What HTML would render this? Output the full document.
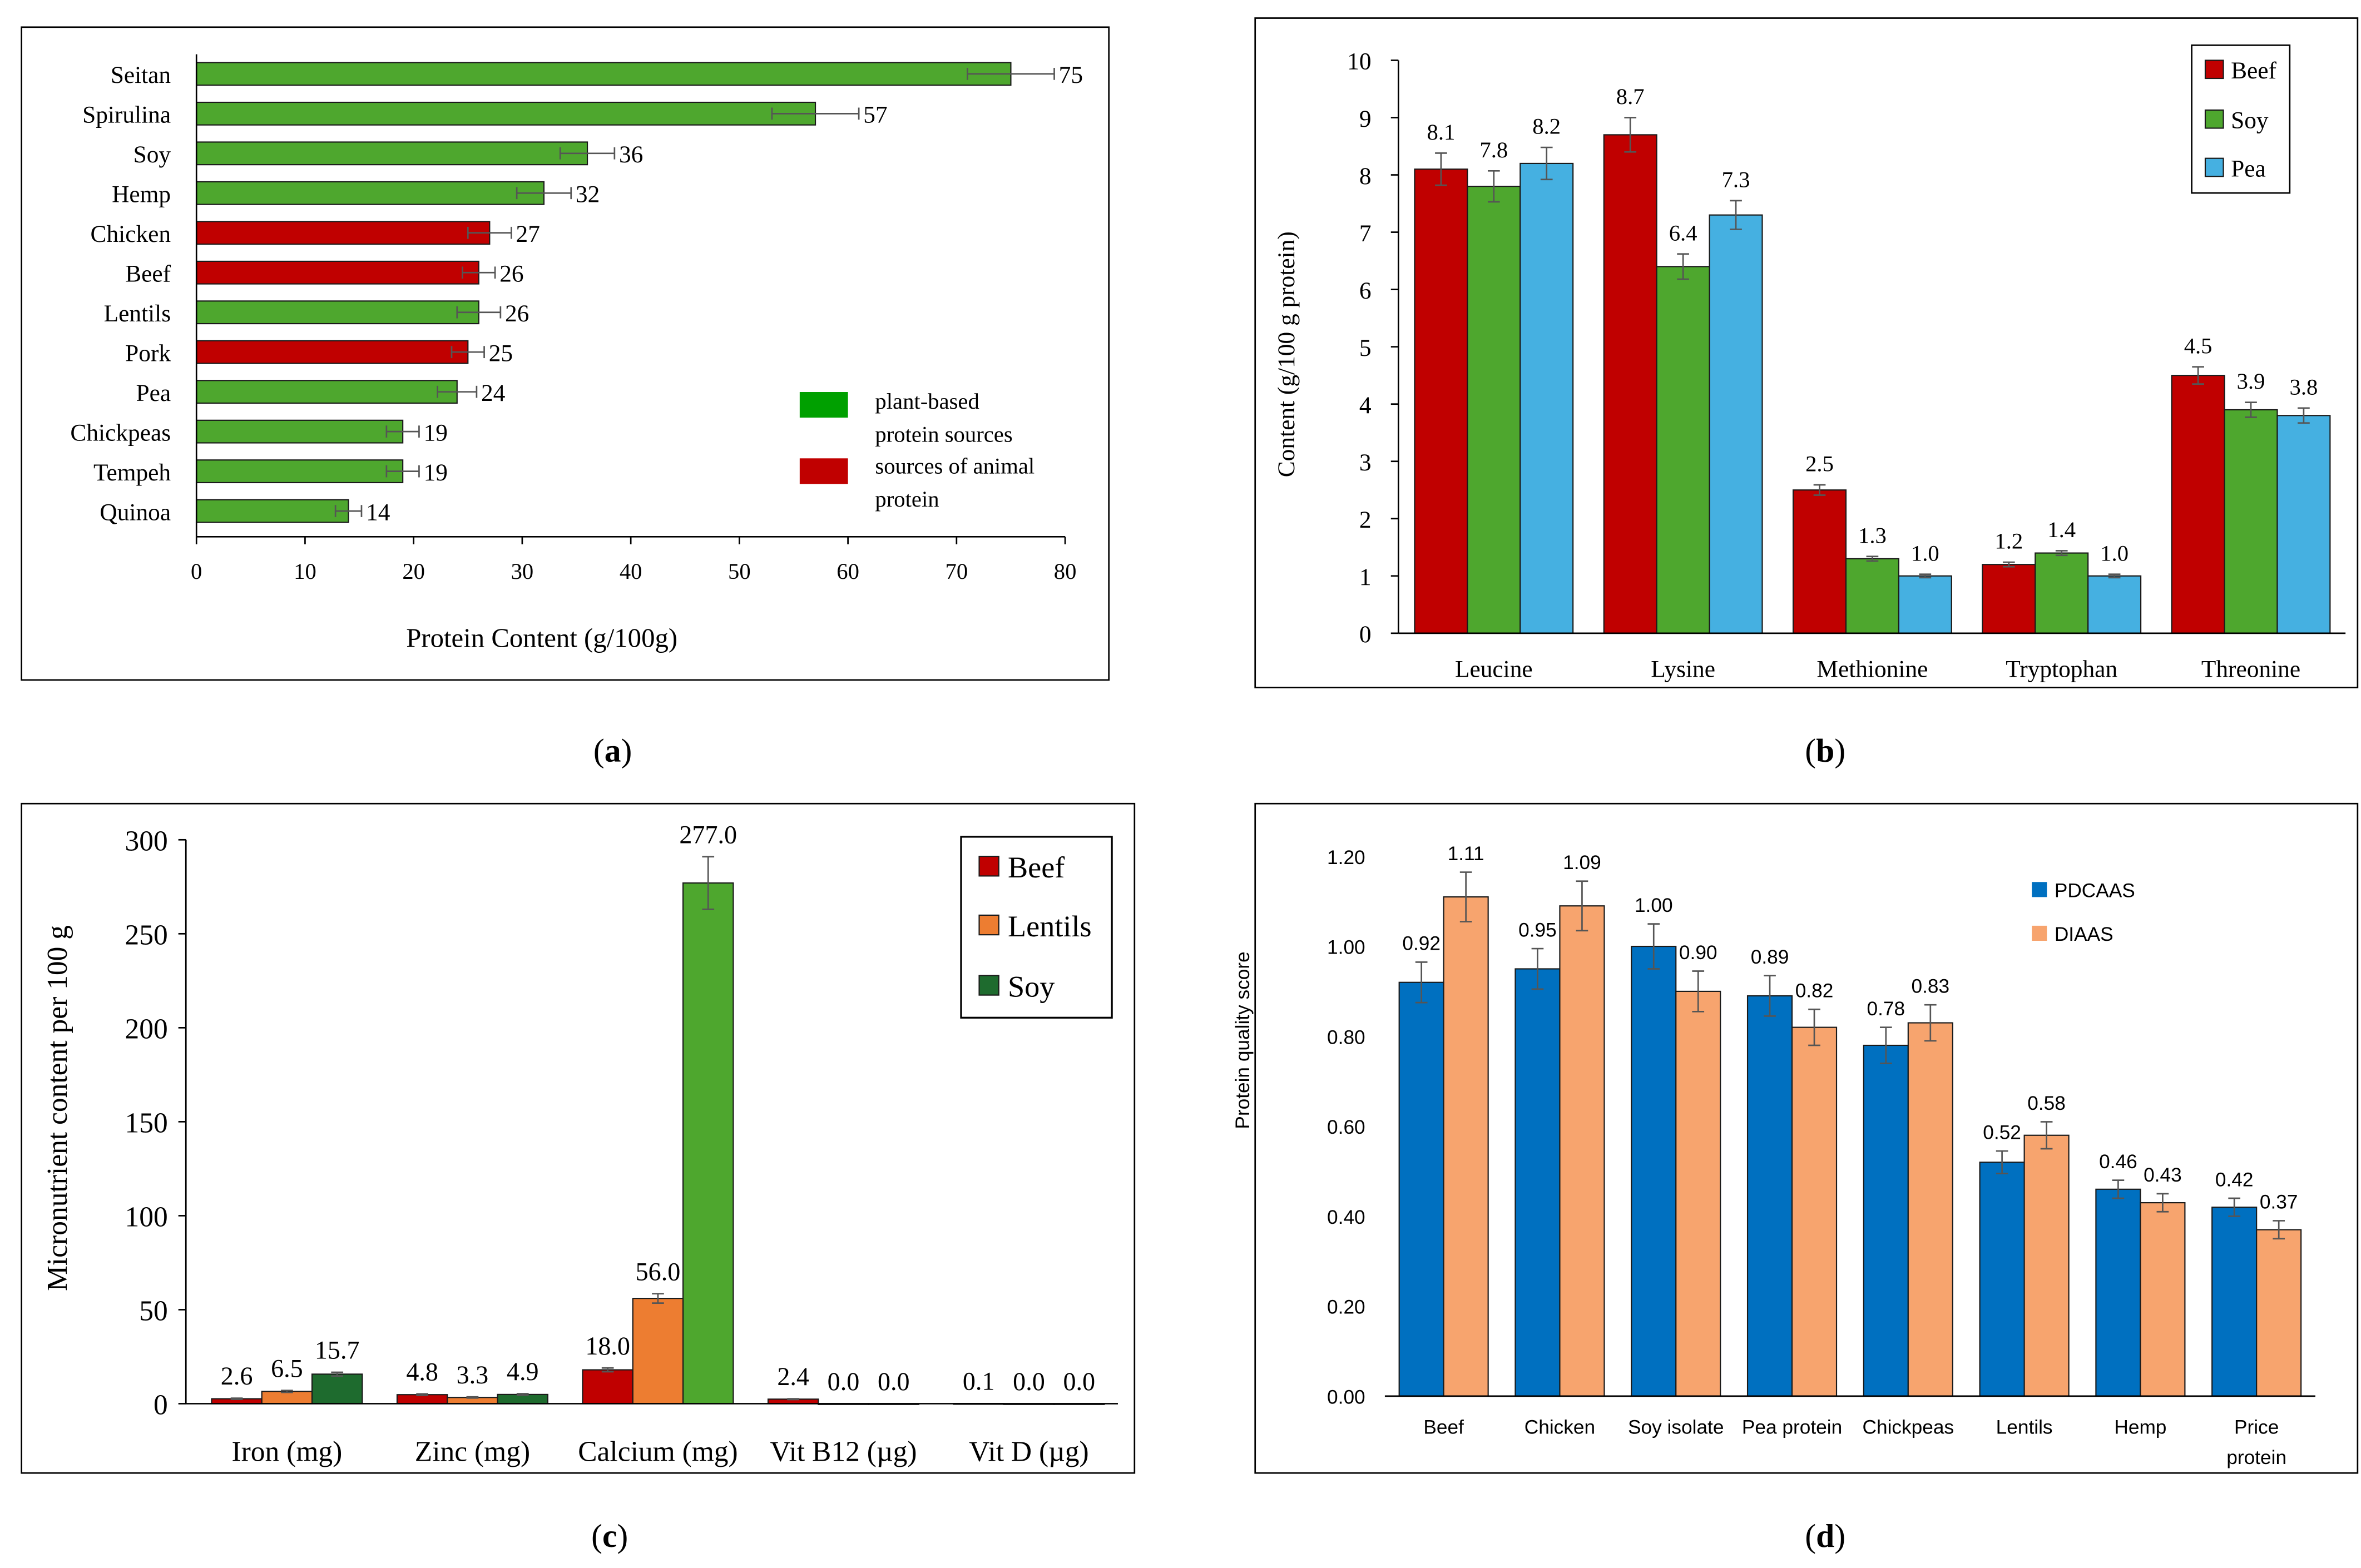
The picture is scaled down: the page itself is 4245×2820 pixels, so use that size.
<!DOCTYPE html>
<html><head><meta charset="utf-8"><style>
html,body{margin:0;padding:0;background:#fff;}
svg{display:block;}
text{font-family:"Liberation Serif",serif;fill:#000;}
.sans{font-family:"Liberation Sans",sans-serif;}
</style></head><body>
<svg id="root" xmlns="http://www.w3.org/2000/svg" width="4245" height="2820" viewBox="0 0 1565 1040">
<rect x="0" y="0" width="1565" height="1040" fill="#fff"/>
<rect x="14" y="18" width="721" height="433" fill="none" stroke="#000" stroke-width="1"/>
<rect x="832" y="12" width="731" height="444" fill="none" stroke="#000" stroke-width="1"/>
<rect x="14" y="533" width="738" height="444" fill="none" stroke="#000" stroke-width="1"/>
<rect x="832" y="533" width="731" height="444" fill="none" stroke="#000" stroke-width="1"/>
<text x="406" y="505" font-size="22" text-anchor="middle">(<tspan font-weight="bold">a</tspan>)</text>
<text x="1210" y="505" font-size="22" text-anchor="middle">(<tspan font-weight="bold">b</tspan>)</text>
<text x="404" y="1026" font-size="22" text-anchor="middle">(<tspan font-weight="bold">c</tspan>)</text>
<text x="1210" y="1026" font-size="22" text-anchor="middle">(<tspan font-weight="bold">d</tspan>)</text>
<g id="ga"></g><g id="gb"></g><g id="gc"></g><g id="gd"></g>
</svg>
<script>
// ---- Panel A data ----
const aCats = ["Seitan","Spirulina","Soy","Hemp","Chicken","Beef","Lentils","Pork","Pea","Chickpeas","Tempeh","Quinoa"];
const aVals = [75,57,36,32,27,26,26,25,24,19,19,14];
const aErrs = [4,4,2.5,2.5,2,1.5,2,1.5,1.8,1.5,1.5,1.2];
const aAnimal = [0,0,0,0,1,1,0,1,0,0,0,0];
const aTicks = [0,10,20,30,40,50,60,70,80];
// ---- Panel B data ----
const bCats = ["Leucine","Lysine","Methionine","Tryptophan","Threonine"];
const bBeef = [8.1,8.7,2.5,1.2,4.5];
const bSoy = [7.8,6.4,1.3,1.4,3.9];
const bPea = [8.2,7.3,1.0,1.0,3.8];
const bBeefErr = [0.28,0.3,0.09,0.04,0.15];
const bSoyErr = [0.27,0.22,0.04,0.04,0.13];
const bPeaErr = [0.28,0.25,0.03,0.03,0.13];
const bTicks = [0,1,2,3,4,5,6,7,8,9,10];
// ---- Panel C data ----
const cCats = ["Iron (mg)","Zinc (mg)","Calcium (mg)","Vit B12 (µg)","Vit D (µg)"];
const cBeef = [2.6,4.8,18.0,2.4,0.1];
const cLent = [6.5,3.3,56.0,0.0,0.0];
const cSoy = [15.7,4.9,277.0,0.0,0.0];
const cBeefErr = [0.3,0.4,1,0.2,0];
const cLentErr = [0.5,0.3,2.5,0,0];
const cSoyErr = [1,0.4,14,0,0];
const cTicks = [0,50,100,150,200,250,300];
// ---- Panel D data ----
const dCats = ["Beef","Chicken","Soy isolate","Pea protein","Chickpeas","Lentils","Hemp","Price protein"];
const dPd = [0.92,0.95,1.00,0.89,0.78,0.52,0.46,0.42];
const dDi = [1.11,1.09,0.90,0.82,0.83,0.58,0.43,0.37];
const dPdErr = [0.045,0.045,0.05,0.045,0.04,0.025,0.02,0.02];
const dDiErr = [0.055,0.055,0.045,0.04,0.04,0.03,0.02,0.02];
const dTicks = [0,0.2,0.4,0.6,0.8,1.0,1.2];

const NS="http://www.w3.org/2000/svg";
function mk(parent, tag, attrs, name, inter){
  const e=document.createElementNS(NS,tag);
  for(const k in attrs) e.setAttribute(k,attrs[k]);
  
  
  parent.appendChild(e); return e;
}
function txt(parent, x,y,s,size,anchor,name,cls,extra){
  const a={x:x,y:y,'font-size':size,'text-anchor':anchor||'start'};
  if(cls) a['class']=cls;
  if(extra) for(const k in extra) a[k]=extra[k];
  const t=mk(parent,'text',a,name,false); t.textContent=s; return t;
}
function vErr(g,x,y1,y2,w,name){
  mk(g,'line',{x1:x,x2:x,y1:y1,y2:y2,stroke:'#555','stroke-width':1},name,false);
  mk(g,'line',{x1:x-w,x2:x+w,y1:y1,y2:y1,stroke:'#555','stroke-width':1},name+'-cap-top',false);
  mk(g,'line',{x1:x-w,x2:x+w,y1:y2,y2:y2,stroke:'#555','stroke-width':1},name+'-cap-bottom',false);
}

// ===== Panel A =====
(function(){
  const g=document.getElementById('ga');
  const x=v=>130+v*7.2, y0=49, step=26.36, bh=15;
  aCats.forEach((c,i)=>{
    const yc=y0+i*step, v=aVals[i], e=aErrs[i];
    mk(g,'rect',{x:x(0),y:yc-bh/2,width:x(v)-x(0),height:bh,fill:aAnimal[i]?'#C00000':'#4EA72E',stroke:'#1a1a1a','stroke-width':0.8},'bar-'+c.toLowerCase(),true);
    mk(g,'line',{x1:x(v-e),x2:x(v+e),y1:yc,y2:yc,stroke:'#555','stroke-width':1},'error-bar-'+c.toLowerCase(),false);
    mk(g,'line',{x1:x(v-e),x2:x(v-e),y1:yc-4,y2:yc+4,stroke:'#555','stroke-width':1},'error-cap',false);
    mk(g,'line',{x1:x(v+e),x2:x(v+e),y1:yc-4,y2:yc+4,stroke:'#555','stroke-width':1},'error-cap',false);
    txt(g,113,yc+6,c,16,'end','category-label-'+c.toLowerCase());
    txt(g,x(v+e)+3,yc+6,String(v),16,'start','value-label-'+c.toLowerCase());
  });
  mk(g,'line',{x1:130,x2:706,y1:356,y2:356,stroke:'#000','stroke-width':1},'x-axis',false);
  mk(g,'line',{x1:130,x2:130,y1:36,y2:356,stroke:'#000','stroke-width':1},'y-axis',false);
  aTicks.forEach(t=>{
    mk(g,'line',{x1:x(t),x2:x(t),y1:356,y2:361,stroke:'#000','stroke-width':1},'x-tick',false);
    txt(g,x(t),384,String(t),15,'middle','x-tick-label');
  });
  txt(g,359,429,'Protein Content (g/100g)',18,'middle','x-axis-title');
  mk(g,'rect',{x:530,y:260,width:32,height:17,fill:'#00A000'},'legend-swatch-plant',false);
  mk(g,'rect',{x:530,y:304,width:32,height:17,fill:'#C00000'},'legend-swatch-animal',false);
  txt(g,580,271,'plant-based',15,'start','legend-plant-line1');
  txt(g,580,293,'protein sources',15,'start','legend-plant-line2');
  txt(g,580,314,'sources of animal',15,'start','legend-animal-line1');
  txt(g,580,336,'protein',15,'start','legend-animal-line2');
})();

// ===== Panel B =====
(function(){
  const g=document.getElementById('gb');
  const y=v=>420-v*38, x0=927.5, gw=125.5, bw=35;
  bTicks.forEach(t=>{
    mk(g,'line',{x1:922,x2:927,y1:y(t),y2:y(t),stroke:'#000','stroke-width':1},'y-tick',false);
    txt(g,909,y(t)+6,String(t),16,'end','y-tick-label');
  });
  const series=[[bBeef,bBeefErr,'#C00000','beef'],[bSoy,bSoyErr,'#4EA72E','soy'],[bPea,bPeaErr,'#45B0E1','pea']];
  bCats.forEach((c,i)=>{
    series.forEach((s,j)=>{
      const v=s[0][i], e=s[1][i], bx=x0+gw*i+(gw-3*bw)/2+j*bw, cx=bx+bw/2;
      mk(g,'rect',{x:bx,y:y(v),width:bw,height:y(0)-y(v),fill:s[2],stroke:'#1a1a1a','stroke-width':0.8},'bar-'+s[3]+'-'+c.toLowerCase(),true);
      vErr(g,cx,y(v+e),y(v-e),4,'error-bar-'+s[3]+'-'+c.toLowerCase());
      txt(g,cx,y(v+e)-9,v.toFixed(1),15,'middle','value-label-'+s[3]+'-'+c.toLowerCase());
    });
    txt(g,x0+gw*i+gw/2,449,c,16,'middle','category-label-'+c.toLowerCase());
  });
  mk(g,'line',{x1:927,x2:1555,y1:420,y2:420,stroke:'#000','stroke-width':1},'x-axis',false);
  mk(g,'line',{x1:927,x2:927,y1:40,y2:420,stroke:'#000','stroke-width':1},'y-axis',false);
  txt(g,0,0,'Content (g/100 g protein)',16,'middle','y-axis-title',null,{transform:'translate(858,235) rotate(-90)'});
  mk(g,'rect',{x:1453,y:30,width:65,height:98,fill:'#fff',stroke:'#000','stroke-width':1},'legend-box',false);
  [['Beef','#C00000',46],['Soy','#4EA72E',79],['Pea','#45B0E1',111]].forEach(l=>{
    mk(g,'rect',{x:1462,y:l[2]-6,width:12,height:12,fill:l[1],stroke:'#1a1a1a','stroke-width':0.8},'legend-swatch-'+l[0].toLowerCase(),false);
    txt(g,1479,l[2]+6,l[0],16,'start','legend-label-'+l[0].toLowerCase());
  });
})();

// ===== Panel C =====
(function(){
  const g=document.getElementById('gc');
  const y=v=>931-v*1.2467, x0=128.5, gw=123, bw=33.3;
  cTicks.forEach(t=>{
    mk(g,'line',{x1:118,x2:123,y1:y(t),y2:y(t),stroke:'#000','stroke-width':1},'y-tick',false);
    txt(g,111,y(t)+7,String(t),19,'end','y-tick-label');
  });
  const soyCols=['#1E6B2E','#1E6B2E','#4EA72E','#1E6B2E','#1E6B2E'];
  const series=[[cBeef,cBeefErr,'beef'],[cLent,cLentErr,'lentils'],[cSoy,cSoyErr,'soy']];
  const cols=['#C00000','#ED7D31'];
  cCats.forEach((c,i)=>{
    series.forEach((s,j)=>{
      const v=s[0][i], e=s[1][i], bx=x0+gw*i+(gw-3*bw)/2+j*bw, cx=bx+bw/2;
      const col=j<2?cols[j]:soyCols[i];
      mk(g,'rect',{x:bx,y:y(v),width:bw,height:Math.max(y(0)-y(v),0.5),fill:col,stroke:'#1a1a1a','stroke-width':0.8},'bar-'+s[2]+'-'+i,true);
      if(e>0) vErr(g,cx,y(v+e),y(v-e),4,'error-bar-'+s[2]+'-'+i);
      txt(g,cx,y(v+e)-9,v.toFixed(1),17,'middle','value-label-'+s[2]+'-'+i);
    });
    txt(g,x0+gw*i+gw/2,969,c,19,'middle','category-label-'+i);
  });
  mk(g,'line',{x1:123,x2:741,y1:931,y2:931,stroke:'#000','stroke-width':1},'x-axis',false);
  mk(g,'line',{x1:123,x2:123,y1:557,y2:931,stroke:'#000','stroke-width':1},'y-axis',false);
  txt(g,0,0,'Micronutrient content per 100 g',19,'middle','y-axis-title',null,{transform:'translate(44,735) rotate(-90)'});
  mk(g,'rect',{x:637,y:555,width:100,height:120,fill:'#fff',stroke:'#000','stroke-width':1.2},'legend-box',false);
  [['Beef','#C00000',575],['Lentils','#ED7D31',614],['Soy','#1E6B2E',654]].forEach(l=>{
    mk(g,'rect',{x:649,y:l[2]-7,width:13,height:13,fill:l[1],stroke:'#1a1a1a','stroke-width':0.8},'legend-swatch-'+l[0].toLowerCase(),false);
    txt(g,668,l[2]+7,l[0],20,'start','legend-label-'+l[0].toLowerCase());
  });
})();

// ===== Panel D =====
(function(){
  const g=document.getElementById('gd');
  const y=v=>926-v*298.3, x0=918.5, gw=77, bw=29.5;
  dTicks.forEach(t=>{
    txt(g,905,y(t)+5,t.toFixed(2),13,'end','y-tick-label','sans');
  });
  const series=[[dPd,dPdErr,'#0070C0','pdcaas'],[dDi,dDiErr,'#F7A46E','diaas']];
  dCats.forEach((c,i)=>{
    series.forEach((s,j)=>{
      const v=s[0][i], e=s[1][i], bx=x0+gw*i+(gw-2*bw)/2+j*bw, cx=bx+bw/2;
      mk(g,'rect',{x:bx,y:y(v),width:bw,height:y(0)-y(v),fill:s[2],stroke:'#1a1a1a','stroke-width':0.8},'bar-'+s[3]+'-'+i,true);
      vErr(g,cx,y(v+e),y(v-e),4,'error-bar-'+s[3]+'-'+i);
      txt(g,cx,y(v+e)-8,v.toFixed(2),13,'middle','value-label-'+s[3]+'-'+i,'sans');
    });
    const cx=x0+gw*i+gw/2;
    if(c==='Price protein'){
      txt(g,cx,951,'Price',13,'middle','category-label-'+i+'-line1','sans');
      txt(g,cx,971,'protein',13,'middle','category-label-'+i+'-line2','sans');
    } else txt(g,cx,951,c,13,'middle','category-label-'+i,'sans');
  });
  mk(g,'line',{x1:918,x2:1535,y1:926,y2:926,stroke:'#000','stroke-width':1},'x-axis',false);
  txt(g,0,0,'Protein quality score',13,'middle','y-axis-title','sans',{transform:'translate(828,690) rotate(-90)'});
  [['PDCAAS','#0070C0',590],['DIAAS','#F7A46E',619]].forEach(l=>{
    mk(g,'rect',{x:1347,y:l[2]-5,width:10,height:10,fill:l[1]},'legend-swatch-'+l[0].toLowerCase(),false);
    txt(g,1362,l[2]+5,l[0],13,'start','legend-label-'+l[0].toLowerCase(),'sans');
  });
})();
</script>
</body></html>
